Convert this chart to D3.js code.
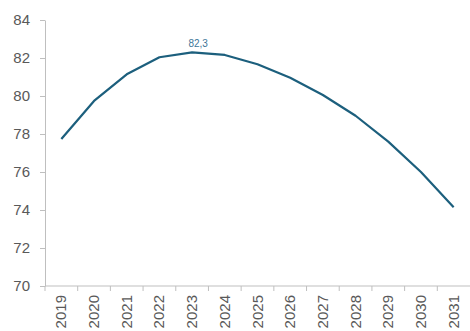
<!DOCTYPE html>
<html>
<head>
<meta charset="utf-8">
<script src="https://cdn.jsdelivr.net/npm/d3@7"></script>
<style>
  body { margin: 0; background: #fff; }
  svg { display: block; }
</style>
</head>
<body>
<svg id="chart" width="470" height="331"></svg>
<script>
// data
let years = ["2019", "2020", "2021", "2022", "2023", "2024", "2025", "2026", "2027", "2028", "2029", "2030", "2031"]
let values = [77.74, 79.74, 81.14, 82.04, 82.3, 82.16, 81.67, 80.96, 80.05, 78.96, 77.6, 76.0, 74.14]
let yTicks = [70, 72, 74, 76, 78, 80, 82, 84]
let peakLabel = "82,3"

let width = 470
let height = 331
let margin = ({ top: 20, right: 0, bottom: 45, left: 45 })

let svg = d3.select("#chart")
    .attr("viewBox", [0, 0, width, height])
    .style("font-family", "'Liberation Sans', Arial, sans-serif")

let x = d3.scaleBand()
    .domain(years)
    .range([margin.left, width - margin.right])

let y = d3.scaleLinear()
    .domain([70, 84])
    .range([height - margin.bottom, margin.top])

let axisColor = "#bfbfbf"
let textColor = "#595959"

// y axis
let yAxis = g => g
    .attr("transform", `translate(${margin.left},0)`)
    .call(d3.axisLeft(y).tickValues(yTicks).tickSize(5).tickPadding(10).tickSizeOuter(0))
    .call(g => g.select(".domain").attr("stroke", axisColor))
    .call(g => g.selectAll(".tick line").attr("stroke", axisColor))
    .call(g => g.selectAll(".tick text")
        .attr("fill", textColor)
        .attr("font-size", 15))

// x axis, ticks on the band edges
let xAxis = g => g
    .attr("transform", `translate(0,${height - margin.bottom})`)
    .call(g => g.append("line")
        .attr("x1", margin.left).attr("x2", width - margin.right)
        .attr("stroke", axisColor))
    .call(g => g.selectAll(".xt")
        .data(years)
        .join("line")
        .attr("class", "xt")
        .attr("x1", d => x(d)).attr("x2", d => x(d))
        .attr("y1", 0).attr("y2", 5)
        .attr("stroke", axisColor))
    .call(g => g.selectAll(".xl")
        .data(years)
        .join("text")
        .attr("class", "xl")
        .attr("transform", d => `translate(${x(d) + x.bandwidth() / 2 + 5},9) rotate(-90)`)
        .attr("text-anchor", "end")
        .attr("fill", textColor)
        .attr("font-size", 15)
        .text(d => d))

svg.append("g").call(yAxis)
svg.append("g").call(xAxis)

let line = d3.line()
    .x((d, i) => x(years[i]) + x.bandwidth() / 2)
    .y(d => y(d))

svg.append("path")
    .datum(values)
    .attr("fill", "none")
    .attr("stroke", "#1c5f7d")
    .attr("stroke-width", 2.2)
    .attr("stroke-linejoin", "round")
    .attr("d", line)

// label on the peak
let peak = values.indexOf(d3.max(values))
svg.append("text")
    .attr("x", x(years[peak]) + x.bandwidth() / 2 + 6)
    .attr("y", y(values[peak]) - 5)
    .attr("text-anchor", "middle")
    .attr("fill", "#3d7698")
    .attr("font-size", 10)
    .text(peakLabel)
</script>
</body>
</html>
